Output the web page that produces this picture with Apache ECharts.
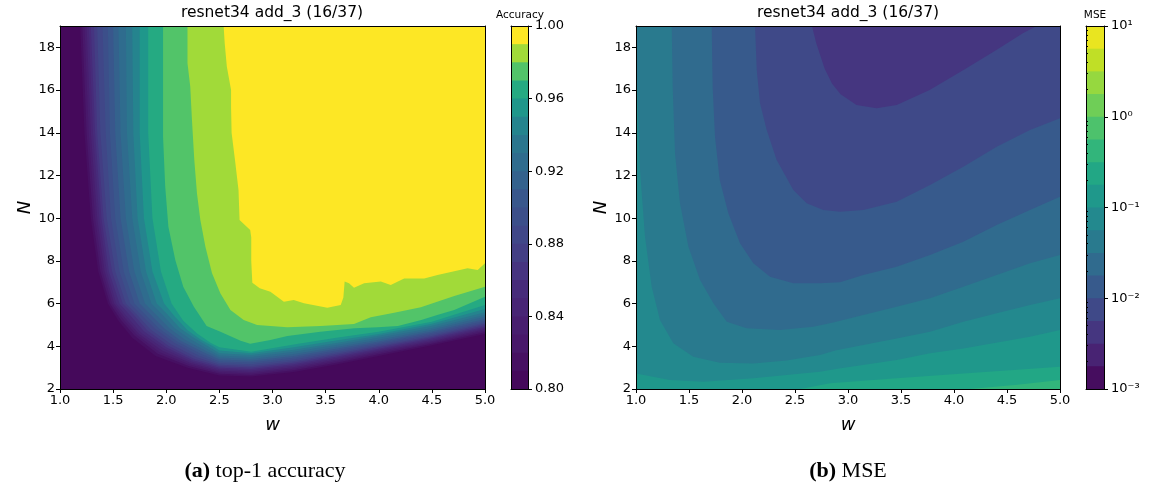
<!DOCTYPE html>
<html>
<head>
<meta charset="utf-8">
<script src="https://cdn.jsdelivr.net/npm/echarts@6/dist/echarts.min.js"></script>
<style>
  html, body { margin: 0; padding: 0; background: #fff; }
  #main { width: 1153px; height: 491px; }
</style>
</head>
<body>
<div id="main"></div>
<script>
// ---------- data ----------
const wTicks = [1.0, 1.5, 2.0, 2.5, 3.0, 3.5, 4.0, 4.5, 5.0];
const nTicks = [2, 4, 6, 8, 10, 12, 14, 16, 18];
const accTicks = [0.80, 0.84, 0.88, 0.92, 0.96, 1.00];
const accLevels = [0.80, 0.81, 0.82, 0.83, 0.84, 0.85, 0.86, 0.87, 0.88, 0.89, 0.90,
  0.91, 0.92, 0.93, 0.94, 0.95, 0.96, 0.97, 0.98, 0.99, 1.00];
const mseTicks = [0.001, 0.01, 0.1, 1, 10];
const mseTickLabels = ['10⁻³', '10⁻²', '10⁻¹', '10⁰', '10¹'];
const mseMinorTicks = [0.002, 0.003, 0.004, 0.005, 0.006, 0.007, 0.008, 0.009,
  0.02, 0.03, 0.04, 0.05, 0.06, 0.07, 0.08, 0.09,
  0.2, 0.3, 0.4, 0.5, 0.6, 0.7, 0.8, 0.9,
  2, 3, 4, 5, 6, 7, 8, 9];
const mseLevelExp = [-3, -2.75, -2.5, -2.25, -2, -1.75, -1.5, -1.25, -1,
  -0.75, -0.5, -0.25, 0, 0.25, 0.5, 0.75, 1];

// accuracy contours: [w, N] points, accuracy >= level above the curve
const acc81 = [[1.19,19],[1.23,14],[1.29,10],[1.36,7.5],[1.45,6],[1.55,5.2],[1.68,4.4],[1.90,3.55],[2.20,3.0],[2.5,2.63],[2.8,2.58],[3.2,2.80],[3.6,3.15],[4.0,3.55],[4.5,4.05],[5.0,4.58]];
const acc82 = [[1.21,19],[1.25,14],[1.31,10],[1.38,7.5],[1.47,6],[1.57,5.25],[1.70,4.5],[1.92,3.65],[2.21,3.08],[2.5,2.71],[2.8,2.66],[3.2,2.88],[3.6,3.23],[4.0,3.63],[4.5,4.12],[5.0,4.66]];
const acc83 = [[1.23,19],[1.27,14],[1.33,10],[1.40,7.5],[1.49,6],[1.59,5.3],[1.72,4.55],[1.94,3.72],[2.22,3.15],[2.5,2.78],[2.8,2.73],[3.2,2.95],[3.6,3.30],[4.0,3.70],[4.5,4.18],[5.0,4.73]];
const acc84 = [[1.25,19],[1.29,14],[1.35,10],[1.42,7.5],[1.51,6],[1.61,5.35],[1.74,4.6],[1.96,3.8],[2.23,3.22],[2.5,2.85],[2.8,2.80],[3.2,3.02],[3.6,3.37],[4.0,3.77],[4.5,4.24],[5.0,4.80]];
const acc85 = [[1.27,19],[1.31,14],[1.37,10],[1.44,7.5],[1.53,6],[1.63,5.4],[1.76,4.65],[1.98,3.88],[2.24,3.28],[2.5,2.92],[2.8,2.87],[3.2,3.09],[3.6,3.44],[4.0,3.83],[4.5,4.30],[5.0,4.86]];
const acc86 = [[1.29,19],[1.33,14],[1.39,10],[1.46,7.5],[1.56,6],[1.66,5.45],[1.79,4.7],[2.00,3.95],[2.25,3.35],[2.5,2.99],[2.8,2.94],[3.2,3.16],[3.6,3.51],[4.0,3.89],[4.5,4.36],[5.0,4.92]];
const acc87 = [[1.32,19],[1.35,14],[1.41,10],[1.49,7.5],[1.59,6],[1.69,5.5],[1.82,4.75],[2.02,4.02],[2.26,3.42],[2.5,3.06],[2.8,3.01],[3.2,3.23],[3.6,3.58],[4.0,3.95],[4.5,4.42],[5.0,4.98]];
const acc88 = [[1.35,19],[1.38,14],[1.44,10],[1.52,7.5],[1.62,6],[1.72,5.5],[1.85,4.8],[2.05,4.08],[2.28,3.5],[2.5,3.13],[2.8,3.08],[3.2,3.30],[3.6,3.65],[4.0,4.01],[4.5,4.48],[5.0,5.05]];
const acc89 = [[1.40,19],[1.43,14],[1.48,10],[1.56,7.5],[1.66,6],[1.76,5.5],[1.89,4.85],[2.08,4.15],[2.30,3.58],[2.5,3.21],[2.8,3.16],[3.2,3.38],[3.6,3.72],[4.0,4.08],[4.5,4.55],[5.0,5.12]];
const acc90 = [[1.45,19],[1.47,14],[1.52,10],[1.60,7.5],[1.70,6],[1.80,5.5],[1.93,4.85],[2.11,4.2],[2.32,3.66],[2.5,3.29],[2.8,3.24],[3.2,3.46],[3.6,3.80],[4.0,4.15],[4.5,4.62],[5.0,5.20]];
const acc91 = [[1.50,19],[1.52,14],[1.57,10],[1.65,7.5],[1.75,6],[1.85,5.5],[1.98,4.85],[2.14,4.25],[2.34,3.74],[2.5,3.38],[2.8,3.32],[3.2,3.55],[3.6,3.88],[4.0,4.23],[4.5,4.69],[5.0,5.28]];
const acc92 = [[1.55,19],[1.57,14],[1.62,10],[1.70,7.5],[1.80,6],[1.90,5.5],[2.03,4.85],[2.18,4.3],[2.36,3.82],[2.5,3.47],[2.8,3.41],[3.2,3.64],[3.6,3.97],[4.0,4.31],[4.5,4.77],[5.0,5.38]];
const acc93 = [[1.62,19],[1.63,14],[1.68,10],[1.76,7.5],[1.86,6],[1.96,5.5],[2.08,4.85],[2.22,4.35],[2.38,3.9],[2.5,3.57],[2.8,3.50],[3.2,3.74],[3.6,4.06],[4.0,4.40],[4.5,4.86],[5.0,5.48]];
const acc94 = [[1.68,19],[1.69,14],[1.73,10],[1.81,7.5],[1.91,6],[2.01,5.5],[2.13,4.85],[2.26,4.4],[2.40,3.98],[2.5,3.68],[2.8,3.59],[3.2,3.84],[3.6,4.16],[4.0,4.49],[4.5,4.96],[5.0,5.60]];
const acc95 = [[1.75,19],[1.75,14],[1.79,10],[1.87,7.5],[1.98,6],[2.08,5.4],[2.20,4.75],[2.33,4.3],[2.44,4.0],[2.5,3.80],[2.8,3.67],[3.2,3.95],[3.6,4.27],[4.0,4.58],[4.5,5.06],[5.0,5.75]];
const acc96 = [[1.83,19],[1.83,14],[1.87,10],[1.95,7.5],[2.05,6],[2.16,5.2],[2.29,4.6],[2.42,4.15],[2.5,3.95],[2.8,3.75],[3.2,4.08],[3.6,4.40],[4.0,4.68],[4.5,5.15],[5.0,5.93]];
const acc97 = [[1.97,19],[1.97,16.2],[1.97,13.8],[1.99,11.5],[2.02,9.6],[2.085,8.04],[2.16,6.79],[2.26,5.85],[2.38,4.95],[2.51,4.68],[2.70,4.26],[2.79,4.12],[2.98,4.3],[3.14,4.48],[3.45,4.68],[3.77,4.84],[3.99,4.89],[4.18,4.95],[4.40,5.23],[4.55,5.47],[4.71,5.70],[5.0,6.32]];
const acc98 = [[2.20,19],[2.20,17.25],[2.226,16.16],[2.242,14.6],[2.264,12.73],[2.289,11.17],[2.321,9.92],[2.368,8.67],[2.431,7.42],[2.509,6.48],[2.604,5.70],[2.729,5.23],[2.855,5.0],[3.139,4.89],[3.453,4.95],[3.767,5.04],[3.925,5.36],[4.145,5.57],[4.396,5.83],[4.711,6.36],[5.0,6.79]];
const acc99 = [[2.54,19],[2.55,18.2],[2.57,17.1],[2.61,16.0],[2.61,15.2],[2.615,14.0],[2.647,12.73],[2.68,11.32],[2.69,9.92],[2.79,9.45],[2.80,9.1],[2.80,8.0],[2.81,6.98],[2.88,6.72],[2.98,6.56],[3.107,6.09],[3.20,6.17],[3.296,6.01],[3.516,5.81],[3.642,5.93],[3.667,6.29],[3.679,7.03],[3.72,6.95],[3.767,6.74],[3.862,6.95],[4.019,7.03],[4.113,6.87],[4.239,7.18],[4.428,7.18],[4.553,7.34],[4.836,7.65],[4.931,7.57],[5.0,7.89]];

// MSE contours: [w, N] points, MSE >= level below the curve
const mseM225 = [[1.0,19],[2.66,19],[2.70,18.2],[2.78,17.0],[2.85,16.3],[2.93,15.8],[3.08,15.3],[3.27,15.15],[3.46,15.3],[3.77,16.0],[4.09,16.94],[4.40,17.88],[4.65,18.66],[4.78,19],[5.0,19]];
const mseM200 = [[1.0,19],[2.123,19],[2.139,16.94],[2.17,15.38],[2.233,14.13],[2.327,12.73],[2.484,11.32],[2.61,10.7],[2.767,10.38],[2.925,10.3],[3.144,10.38],[3.459,10.77],[3.774,11.55],[4.088,12.41],[4.403,13.35],[4.717,14.13],[5.0,14.68]];
const mseM175 = [[1.0,19],[1.714,19],[1.723,16.16],[1.745,13.82],[1.79,11.79],[1.871,10.23],[1.981,8.82],[2.107,7.89],[2.264,7.26],[2.484,6.95],[2.736,6.95],[2.925,7.0],[3.144,7.34],[3.459,7.73],[3.774,8.28],[4.088,8.9],[4.403,9.68],[4.717,10.38],[5.0,11.0]];
const mseM150 = [[1.0,19],[1.337,19],[1.346,16.16],[1.368,13.04],[1.415,10.7],[1.494,8.67],[1.604,7.11],[1.73,6.01],[1.856,5.15],[2.044,4.84],[2.358,4.76],[2.673,4.92],[2.85,5.1],[3.144,5.47],[3.459,5.85],[3.774,6.25],[4.088,6.79],[4.403,7.34],[4.717,7.89],[5.0,8.28]];
const mseM125 = [[1.0,19],[1.012,16.16],[1.038,12.26],[1.085,9.13],[1.148,6.79],[1.226,5.23],[1.352,4.14],[1.54,3.51],[1.79,3.23],[2.107,3.2],[2.42,3.33],[2.736,3.59],[2.88,3.8],[3.144,4.06],[3.459,4.37],[3.774,4.68],[4.088,5.15],[4.403,5.55],[4.717,5.93],[5.0,6.25]];
const mseM100 = [[1.0,2.73],[1.32,2.42],[1.635,2.34],[2.107,2.5],[2.42,2.66],[2.736,2.81],[2.9,2.95],[3.459,3.36],[3.774,3.67],[4.088,3.9],[4.717,4.45],[5.0,4.76]];
const mseM075 = [[2.55,2.0],[2.83,2.27],[3.46,2.5],[4.09,2.73],[5.0,3.04]];
const mseM050 = [[4.15,2.0],[4.6,2.2],[5.0,2.42]];

const accContours = [[0.81, acc81], [0.82, acc82], [0.83, acc83], [0.84, acc84], [0.85, acc85],
  [0.86, acc86], [0.87, acc87], [0.88, acc88], [0.89, acc89], [0.90, acc90], [0.91, acc91],
  [0.92, acc92], [0.93, acc93], [0.94, acc94], [0.95, acc95], [0.96, acc96], [0.97, acc97],
  [0.98, acc98], [0.99, acc99]];
const mseContours = [[-2.25, mseM225], [-2, mseM200], [-1.75, mseM175], [-1.5, mseM150],
  [-1.25, mseM125], [-1, mseM100], [-0.75, mseM075], [-0.5, mseM050]];

// ---------- colours ----------
const VIR = ['#440154', '#481a6c', '#472f7d', '#414487', '#39568c', '#31688e', '#2a788e', '#23888e',
  '#1f988b', '#22a884', '#35b779', '#54c568', '#7ad151', '#a5db36', '#d2e21b', '#fde725'];
function viridis(t) {
  t = Math.max(0, Math.min(1, t));
  const s = t * 15, i = Math.min(14, Math.floor(s)), f = s - i;
  const a = VIR[i], b = VIR[i + 1];
  const ch = k => Math.round(parseInt(a.substr(k, 2), 16) * (1 - f) + parseInt(b.substr(k, 2), 16) * f);
  return 'rgb(' + ch(1) + ',' + ch(3) + ',' + ch(5) + ')';
}
// colour position of each accuracy band (0.80-0.81 ... 0.99-1.00), picked off the colour bar
const accBandT = [0.02, 0.04, 0.06, 0.08, 0.10, 0.12, 0.15, 0.18, 0.21, 0.24,
  0.27, 0.31, 0.35, 0.39, 0.45, 0.53, 0.61, 0.73, 0.86, 1.0];
const accColor = i => viridis(accBandT[i]);
const mseColor = i => viridis((i + 0.5) / 16);

// ---------- chart ----------
const chart = echarts.init(document.getElementById('main'));
const FONT = 'DejaVu Sans';
const black = '#000';

const frameLine = { show: true, onZero: false, lineStyle: { color: black, width: 1 } };
function plotX(grid, pos) {
  const main = pos === 'bottom';
  return {
    gridIndex: grid, type: 'value', min: 1, max: 5, position: pos, z: 10,
    axisLine: frameLine, splitLine: { show: false },
    axisTick: main ? { show: true, length: 4, lineStyle: { color: black }, customValues: wTicks } : { show: false },
    axisLabel: main ? { show: true, customValues: wTicks, formatter: v => v.toFixed(1), color: black, fontSize: 13, margin: 5, fontFamily: FONT } : { show: false },
    name: main ? 'w' : '', nameLocation: 'middle', nameGap: 27,
    nameTextStyle: { fontStyle: 'italic', fontSize: 18, color: black, fontFamily: FONT }
  };
}
function plotY(grid, pos) {
  const main = pos === 'left';
  return {
    gridIndex: grid, type: 'value', min: 2, max: 19, position: pos, z: 10,
    axisLine: frameLine, splitLine: { show: false },
    axisTick: main ? { show: true, length: 4, lineStyle: { color: black }, customValues: nTicks } : { show: false },
    axisLabel: main ? { show: true, customValues: nTicks, color: black, fontSize: 13, margin: 5, fontFamily: FONT } : { show: false },
    name: main ? 'N' : '', nameLocation: 'middle', nameGap: 20,
    nameTextStyle: { fontStyle: 'italic', fontSize: 18, color: black, fontFamily: FONT }
  };
}
function barX(grid, pos) {
  return { gridIndex: grid, type: 'value', min: 0, max: 1, position: pos, z: 10,
    axisLine: frameLine, axisTick: { show: false }, axisLabel: { show: false }, splitLine: { show: false } };
}

const xAxis = [plotX(0, 'bottom'), plotX(0, 'top'), barX(1, 'bottom'), barX(1, 'top'),
  plotX(2, 'bottom'), plotX(2, 'top'), barX(3, 'bottom'), barX(3, 'top')];

const yAxis = [
  plotY(0, 'left'), plotY(0, 'right'),
  { gridIndex: 1, type: 'value', min: 0.8, max: 1.0, position: 'left', z: 10, axisLine: frameLine,
    axisTick: { show: false }, axisLabel: { show: false }, splitLine: { show: false } },
  { gridIndex: 1, type: 'value', min: 0.8, max: 1.0, position: 'right', z: 10, axisLine: frameLine,
    splitLine: { show: false },
    axisTick: { show: true, length: 4, lineStyle: { color: black }, customValues: accTicks },
    axisLabel: { show: true, customValues: accTicks, formatter: v => v.toFixed(2), color: black, fontSize: 13, margin: 7, fontFamily: FONT } },
  plotY(2, 'left'), plotY(2, 'right'),
  { gridIndex: 3, type: 'log', logBase: 10, min: 0.001, max: 10, position: 'left', z: 10, axisLine: frameLine,
    axisTick: { show: false }, axisLabel: { show: false }, splitLine: { show: false }, minorTick: { show: false } },
  { gridIndex: 3, type: 'log', logBase: 10, min: 0.001, max: 10, position: 'right', z: 10, axisLine: frameLine,
    splitLine: { show: false },
    axisTick: { show: true, length: 4, lineStyle: { color: black }, customValues: mseTicks },
    axisLabel: { show: true, customValues: mseTicks, color: black, fontSize: 13, margin: 7, fontFamily: FONT,
      formatter: v => mseTickLabels[Math.round(Math.log10(v)) + 3] } },
  { gridIndex: 3, type: 'log', logBase: 10, min: 0.001, max: 10, position: 'right', z: 10,
    axisLine: { show: false }, splitLine: { show: false },
    axisTick: { show: true, length: 2, lineStyle: { color: black }, customValues: mseMinorTicks },
    axisLabel: { show: false } }
];

const series = [];
accContours.forEach(([lvl, pts]) => {
  const band = Math.round((lvl - 0.80) * 100);
  series.push({
    type: 'line', xAxisIndex: 0, yAxisIndex: 0, data: pts, symbol: 'none', showSymbol: false,
    silent: true, animation: false, lineStyle: { width: 0, opacity: 0 },
    areaStyle: { color: accColor(band), opacity: 1, origin: 'end' }
  });
});
mseContours.forEach(([e, pts]) => {
  const band = Math.round((e + 3) * 4);
  series.push({
    type: 'line', xAxisIndex: 4, yAxisIndex: 4, data: pts, symbol: 'none', showSymbol: false,
    silent: true, animation: false, lineStyle: { width: 0, opacity: 0 },
    areaStyle: { color: mseColor(band), opacity: 1, origin: 'start' }
  });
});
// colour bars: every band painted from its lower level up to the top, later bands cover earlier ones
const accBands = [];
for (let i = 0; i < accLevels.length - 1; i++) {
  accBands.push([{ yAxis: accLevels[i], itemStyle: { color: accColor(i), opacity: 1, borderWidth: 0 } },
    { yAxis: accLevels[accLevels.length - 1] }]);
}
series.push({ type: 'line', xAxisIndex: 2, yAxisIndex: 3, data: [], silent: true, animation: false,
  markArea: { silent: true, label: { show: false }, data: accBands } });
const mseBands = [];
for (let i = 0; i < mseLevelExp.length - 1; i++) {
  mseBands.push([{ yAxis: Math.pow(10, mseLevelExp[i]), itemStyle: { color: mseColor(i), opacity: 1, borderWidth: 0 } },
    { yAxis: Math.pow(10, mseLevelExp[mseLevelExp.length - 1]) }]);
}
series.push({ type: 'line', xAxisIndex: 6, yAxisIndex: 7, data: [], silent: true, animation: false,
  markArea: { silent: true, label: { show: false }, data: mseBands } });

const txt = (x, y, text, size, extra) => Object.assign({
  type: 'text', x: x, y: y, silent: true,
  style: Object.assign({ text: text, fontSize: size, fontFamily: FONT, fill: black, textAlign: 'center', textVerticalAlign: 'middle' }, extra || {})
});

const option = {
  animation: false,
  backgroundColor: '#fff',
  textStyle: { fontFamily: FONT },
  grid: [
    { left: 60, top: 26, width: 425, height: 363, show: true, backgroundColor: accColor(0), borderWidth: 0, outerBoundsMode: 'none' },
    { left: 511, top: 26, width: 17, height: 363, outerBoundsMode: 'none' },
    { left: 636, top: 26, width: 424, height: 363, show: true, backgroundColor: mseColor(2), borderWidth: 0, outerBoundsMode: 'none' },
    { left: 1086, top: 26, width: 18, height: 363, outerBoundsMode: 'none' }
  ],
  xAxis: xAxis,
  yAxis: yAxis,
  series: series,
  graphic: [
    txt(272, 13, 'resnet34 add_3 (16/37)', 15.5),
    txt(848, 13, 'resnet34 add_3 (16/37)', 15.5),
    txt(520, 15, 'Accuracy', 10.5),
    txt(1095, 15, 'MSE', 10.5),
    { type: 'text', x: 265, y: 471, silent: true,
      style: { text: '{b|(a)} top-1 accuracy', fontSize: 22, fontFamily: 'Liberation Serif', fill: black,
        textAlign: 'center', textVerticalAlign: 'middle',
        rich: { b: { fontWeight: 'bold', fontSize: 22, fontFamily: 'Liberation Serif', fill: black } } } },
    { type: 'text', x: 848, y: 471, silent: true,
      style: { text: '{b|(b)} MSE', fontSize: 22, fontFamily: 'Liberation Serif', fill: black,
        textAlign: 'center', textVerticalAlign: 'middle',
        rich: { b: { fontWeight: 'bold', fontSize: 22, fontFamily: 'Liberation Serif', fill: black } } } }
  ]
};
chart.setOption(option);
</script>
</body>
</html>
